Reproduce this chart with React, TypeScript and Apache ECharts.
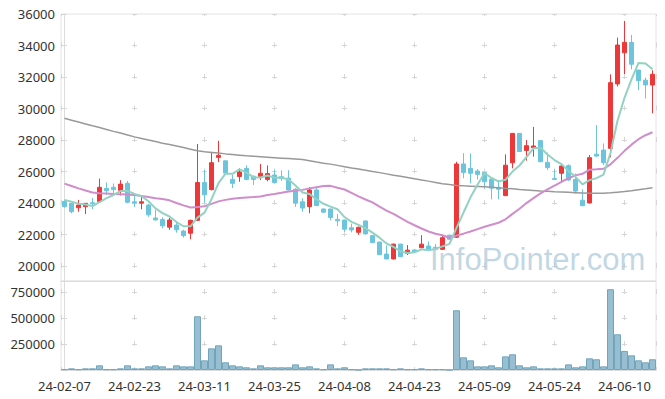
import React, { useEffect, useRef } from "react";
import * as echarts from "echarts";

const dates = [
  "24-02-07", "24-02-08", "24-02-13", "24-02-14", "24-02-15", "24-02-16", "24-02-19", "24-02-20", "24-02-21", "24-02-22",
  "24-02-23", "24-02-26", "24-02-27", "24-02-28", "24-02-29", "24-03-04", "24-03-05", "24-03-06", "24-03-07", "24-03-08",
  "24-03-11", "24-03-12", "24-03-13", "24-03-14", "24-03-15", "24-03-18", "24-03-19", "24-03-20", "24-03-21", "24-03-22",
  "24-03-25", "24-03-26", "24-03-27", "24-03-28", "24-03-29", "24-04-01", "24-04-02", "24-04-03", "24-04-04", "24-04-05",
  "24-04-08", "24-04-09", "24-04-11", "24-04-12", "24-04-15", "24-04-16", "24-04-17", "24-04-18", "24-04-19", "24-04-22",
  "24-04-23", "24-04-24", "24-04-25", "24-04-26", "24-04-29", "24-04-30", "24-05-02", "24-05-03", "24-05-07", "24-05-08",
  "24-05-09", "24-05-10", "24-05-13", "24-05-14", "24-05-16", "24-05-17", "24-05-20", "24-05-21", "24-05-22", "24-05-23",
  "24-05-24", "24-05-27", "24-05-28", "24-05-29", "24-05-30", "24-05-31", "24-06-03", "24-06-04", "24-06-05", "24-06-07",
  "24-06-10", "24-06-11", "24-06-12", "24-06-13", "24-06-14",
];

const opens = [
  24100, 23980, 23700, 23770, 24020, 24100, 24930, 25000, 24800, 25250,
  24080, 23990, 23870, 23050, 22950, 22470, 22600, 22220, 22080, 22900,
  25300, 24850, 26900, 26680, 25500, 25680, 26200, 25700, 25680, 25500,
  25780, 25670, 25580, 24880, 24080, 23770, 24830, 23620, 23620, 22960,
  22920, 22430, 22140, 22860, 21930, 21520, 20760, 20450, 21390, 20800,
  21020, 21160, 21270, 21190, 21060, 21960, 21830, 26480, 26200, 26030,
  25930, 25520, 24980, 24470, 26550, 28420, 27330, 27510, 27960, 26580,
  25550, 25890, 26370, 25500, 24180, 24000, 27100, 27360, 27470, 31560,
  33540, 34200, 32440, 31800, 31490,
];
const closes = [
  23770, 23450, 23870, 23980, 23950, 25000, 24780, 24850, 25200, 24050,
  24000, 24080, 23250, 22930, 22550, 22920, 22300, 21930, 22900, 25300,
  24520, 26560, 27030, 25900, 25250, 25970, 25500, 25500, 25890, 25870,
  25300, 25550, 24830, 23990, 23680, 24830, 23840, 23420, 23080, 22870,
  22340, 22290, 22460, 22040, 21490, 20720, 20450, 21390, 20600, 21010,
  20910, 21390, 21070, 21060, 21800, 21700, 26480, 25940, 25890, 25820,
  25350, 24940, 24880, 26400, 28420, 27270, 27640, 27620, 26620, 26250,
  25500, 26350, 25460, 24760, 23830, 26880, 26980, 26560, 31640, 34030,
  34200, 32810, 31770, 31500, 32170,
];
const lows = [
  23700, 23350, 23450, 23300, 23620, 24050, 24510, 24540, 24480, 23980,
  23750, 23600, 23130, 22880, 22400, 22300, 22120, 21800, 21700, 22850,
  24020, 24800, 26600, 25800, 24950, 25350, 25450, 25150, 25460, 25380,
  25230, 25410, 24800, 23750, 23450, 23350, 23800, 23380, 22900, 22550,
  22170, 22140, 21980, 22000, 21450, 20700, 20420, 20420, 20560, 20700,
  20880, 21150, 21040, 21000, 21020, 21650, 21780, 25570, 25250, 25500,
  24900, 24230, 24230, 24440, 26200, 27250, 26690, 26940, 26600, 26100,
  25480, 25290, 25420, 24610, 23800, 23980, 26950, 26420, 26900, 31400,
  32190, 32490, 31170, 30630, 29700,
];
const highs = [
  24200, 24000, 24190, 24000, 24320, 25550, 25310, 25240, 25450, 25400,
  24500, 24450, 23950, 23560, 23100, 23050, 22750, 22300, 22950, 27750,
  26100, 27250, 27950, 26700, 25800, 26200, 26400, 25750, 26480, 26390,
  26100, 26080, 26080, 24950, 24300, 25010, 25000, 23650, 23650, 23300,
  22950, 22690, 22500, 22900, 21950, 21550, 21300, 21430, 21420, 21330,
  21050, 21960, 21560, 21400, 21950, 22000, 26620, 27160, 27150, 26150,
  25960, 25550, 25460, 27090, 28450, 28440, 28000, 28830, 27980, 27200,
  26150, 26380, 26450, 25870, 24870, 27050, 28950, 27780, 32170, 34500,
  35560, 34670, 32450, 31970, 32430,
];

const volumes = [
  7000, 16000, 7000, 16000, 16000, 45000, 7000, 7000, 16000, 45000,
  16000, 16000, 35000, 45000, 35000, 16000, 45000, 35000, 35000, 516000,
  93000, 208000, 237000, 74000, 45000, 35000, 26000, 16000, 45000, 26000,
  26000, 26000, 26000, 54000, 26000, 35000, 16000, 7000, 54000, 16000,
  26000, 7000, 1000, 16000, 16000, 16000, 16000, 7000, 16000, 7000,
  7000, 16000, 7000, 7000, 7000, 1000, 574000, 122000, 93000, 35000,
  35000, 45000, 26000, 131000, 151000, 45000, 26000, 35000, 16000, 16000,
  16000, 16000, 54000, 26000, 35000, 112000, 103000, 35000, 776000, 343000,
  183000, 141000, 93000, 74000, 103000,
];

const ma5Head = [24200, 24080, 23960, 23900];
const ma20Head = [
  25230, 25080, 24930, 24800, 24670, 24620, 24600, 24580, 24560, 24540,
  24510, 24450, 24380, 24310, 24250, 24170, 24000, 23850, 23720,
];
const ma120 = [
  29380, 29260, 29140, 29020, 28900, 28790, 28670, 28550, 28440, 28320,
  28200, 28100, 28000, 27900, 27800, 27710, 27620, 27520, 27420, 27320,
  27250, 27210, 27170, 27120, 27080, 27040, 27000, 26970, 26940, 26910,
  26880, 26850, 26820, 26790, 26760, 26680, 26600, 26530, 26470, 26390,
  26310, 26230, 26160, 26080, 26000, 25930, 25850, 25770, 25700, 25620,
  25540, 25460, 25390, 25310, 25230, 25170, 25120, 25090, 25070, 25050,
  25030, 25000, 24970, 24930, 24900, 24860, 24830, 24800, 24770, 24750,
  24720, 24700, 24680, 24660, 24640, 24620, 24620, 24620, 24650, 24690,
  24730, 24780, 24840, 24900, 24970,
];

const yTicksMain = { min: 19050, max: 36000, step: 2000 };
const yTicksVol = { min: 0, max: 855000, step: 250000 };

function movingAvg(n: number, head: number[]) {
  return closes.map((_, i) => {
    if (i < n - 1) return head[i];
    let s = 0;
    for (let k = i - n + 1; k <= i; k++) s += closes[k];
    return Math.round(s / n);
  });
}

export default function App() {
  const ref = useRef<HTMLDivElement>(null);
  useEffect(() => {
    if (!ref.current) return;
    const chart = echarts.init(ref.current, undefined, { renderer: "svg" });
    const ma5 = movingAvg(5, ma5Head);
    const ma20 = movingAvg(20, ma20Head);
    const candles = opens.map((o, i) => [o, closes[i], lows[i], highs[i]]);

    const W = 665;
    const gridLeft = 61;
    const gridRight = 9;
    const mainTop = 14;
    const mainH = 267;
    const volTop = 281;
    const volH = 89;
    const crossColor = "#d6d6d6";
    const dash = 5;
    const n = dates.length;
    const catW = (W - gridLeft - gridRight) / n;
    const xPeriod = catW * 10;
    const hOffset = xPeriod - (catW / 2 - dash / 2);
    const mainPx = (mainH * yTicksMain.step) / (yTicksMain.max - yTicksMain.min);
    const vMainOffset = dash / 2;
    const volPx = (volH * yTicksVol.step) / (yTicksVol.max - yTicksVol.min);
    const volFirst = (volH * (yTicksVol.max - 750000)) / (yTicksVol.max - yTicksVol.min);
    const vVolOffset = volPx - (volFirst - dash / 2);

    const plain = (v: number) => String(v);
    const labelFont = { fontSize: 13, color: "#333", fontFamily: "Noto Sans, sans-serif" };
    const axisLineColor = "#dcdcdc";

    chart.setOption({
      animation: false,
      backgroundColor: "#fff",
      grid: [
        { left: gridLeft, right: gridRight, top: mainTop, height: mainH, show: true, borderColor: "#e4e4e4", borderWidth: 1 },
        { left: gridLeft, right: gridRight, top: volTop, height: volH, show: true, borderColor: "#e4e4e4", borderWidth: 1 },
      ],
      xAxis: [
        {
          type: "category", gridIndex: 0, data: dates, boundaryGap: true,
          axisLabel: { show: false }, axisTick: { show: false },
          axisLine: { lineStyle: { color: axisLineColor } }, splitLine: { show: false },
        },
        {
          type: "category", gridIndex: 1, data: dates, boundaryGap: true,
          axisLabel: { ...labelFont, interval: 9, margin: 9 }, axisTick: { show: false },
          axisLine: { lineStyle: { color: axisLineColor } }, splitLine: { show: false },
        },
        {
          type: "value", gridIndex: 0, min: -0.5, max: n - 0.5, minInterval: 10, maxInterval: 10,
          axisLabel: { show: false }, axisTick: { show: false }, axisLine: { show: false },
          splitLine: { show: true, lineStyle: { color: crossColor, width: 1, type: [dash, mainPx - dash], dashOffset: vMainOffset } },
        },
        {
          type: "value", gridIndex: 1, min: -0.5, max: n - 0.5, minInterval: 10, maxInterval: 10,
          axisLabel: { show: false }, axisTick: { show: false }, axisLine: { show: false },
          splitLine: { show: true, lineStyle: { color: crossColor, width: 1, type: [dash, volPx - dash], dashOffset: vVolOffset } },
        },
      ],
      yAxis: [
        {
          type: "value", gridIndex: 0, min: yTicksMain.min, max: yTicksMain.max,
          minInterval: yTicksMain.step, maxInterval: yTicksMain.step,
          axisLabel: { ...labelFont, margin: 6, showMinLabel: false, formatter: plain },
          axisTick: { show: false },
          axisLine: { show: true, lineStyle: { color: axisLineColor } },
          splitLine: { show: true, lineStyle: { color: crossColor, width: 1, type: [dash, xPeriod - dash], dashOffset: hOffset } },
        },
        {
          type: "value", gridIndex: 1, min: yTicksVol.min, max: yTicksVol.max, interval: yTicksVol.step,
          axisLabel: { ...labelFont, margin: 6, showMinLabel: false, showMaxLabel: false, formatter: plain },
          axisTick: { show: false },
          axisLine: { show: true, lineStyle: { color: axisLineColor } },
          splitLine: { show: true, lineStyle: { color: crossColor, width: 1, type: [dash, xPeriod - dash], dashOffset: hOffset } },
        },
      ],
      series: [
        {
          type: "candlestick", name: "price", xAxisIndex: 0, yAxisIndex: 0, data: candles, barWidth: 5,
          itemStyle: { color: "#ec3838", color0: "#6cc5dc", borderColor: "#ec3838", borderColor0: "#6cc5dc", borderWidth: 1 },
          z: 2,
        },
        {
          type: "line", name: "MA120", xAxisIndex: 0, yAxisIndex: 0, data: ma120, showSymbol: false,
          lineStyle: { color: "#999999", width: 1.5 }, z: 3,
        },
        {
          type: "line", name: "MA20", xAxisIndex: 0, yAxisIndex: 0, data: ma20, showSymbol: false,
          lineStyle: { color: "#cf8dcc", width: 2 }, z: 3,
        },
        {
          type: "line", name: "MA5", xAxisIndex: 0, yAxisIndex: 0, data: ma5, showSymbol: false,
          lineStyle: { color: "#93d2c3", width: 2 }, z: 3,
        },
        {
          type: "bar", name: "volume", xAxisIndex: 1, yAxisIndex: 1, data: volumes, barCategoryGap: "0%",
          itemStyle: { color: "#97bfd1", borderColor: "#72a5bc", borderWidth: 1 },
        },
      ],
      graphic: [
        {
          type: "text", x: 430, y: 259, z: 100, silent: true,
          style: {
            text: "InfoPointer.com", fontSize: 31, fontFamily: "Liberation Sans, Arial, sans-serif",
            fill: "rgba(170, 200, 217, 0.72)", verticalAlign: "middle", align: "left",
          },
        },
      ],
    });
    return () => chart.dispose();
  }, []);
  return <div ref={ref} style={{ position: "fixed", left: 0, top: 0, width: 665, height: 399 }} />;
}
